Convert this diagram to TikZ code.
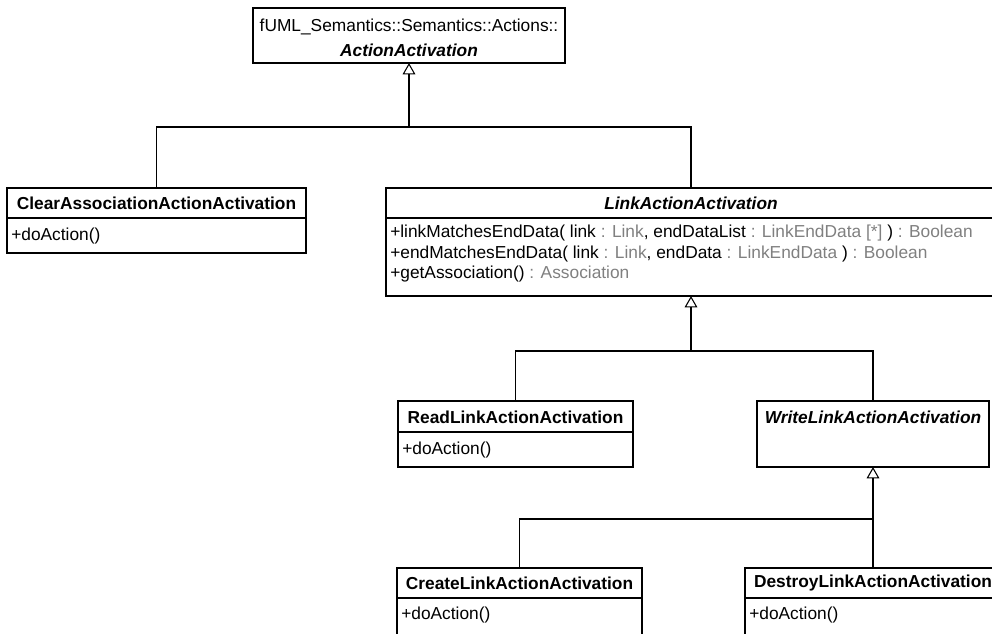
\documentclass[tikz,border=0pt]{standalone}
\usepackage{fontspec}
\setmainfont{Liberation Sans}
\usepackage{xcolor}
\usepackage{tikz}
\usetikzlibrary{positioning,arrows.meta,calc}
\definecolor{typegray}{HTML}{808080}
\newcommand{\umlfont}{\fontsize{13}{15}\selectfont}
\newcommand{\ty}[1]{\textcolor{typegray}{#1}}

\begin{document}
\begin{tikzpicture}[
  x=0.75pt, y=-0.75pt,
  every node/.style={font=\umlfont},
  cls/.style 2 args={draw, line width=1pt, fill=white, inner sep=0pt,
                     outer sep=0pt, anchor=north west,
                     minimum width=#1*0.75pt, minimum height=#2*0.75pt},
  hdr/.style={font=\umlfont\bfseries, inner sep=0pt},
  ahdr/.style={font=\umlfont\bfseries\itshape, inner sep=0pt},
  op/.style={inner sep=0pt, anchor=west},
  divider/.style={line width=1pt},
  wire/.style={line width=0.8pt},
  gen/.style={wire, -{Triangle[open, length=8.5pt, width=9.5pt]}}
]
\useasboundingbox (0,0) rectangle (992,633);
\clip (0,0) rectangle (992,633);
% classes
\node[cls={312}{55}]  (actact)  at (253,8)   {};
\node[cls={299}{65}]  (clear)   at (7,188)   {};
\node[cls={610}{108}] (link)    at (386,188) {};
\node[cls={235}{66}]  (read)    at (398,401) {};
\node[cls={232}{66}]  (write)   at (757,401) {};
\node[cls={245}{80}]  (create)  at (397,568) {};
\node[cls={256}{80}]  (destroy) at (745,568) {};
% names
\node[inner sep=0pt] (actactP) at ($(actact.north)+(0,19)$)
  {fUML\_Semantics::Semantics::Actions::};
\node[ahdr] (actactH)  at ($(actact.north)+(0,42)$)  {ActionActivation};
\node[hdr]  (clearH)   at ($(clear.north)+(0,15)$)   {ClearAssociationActionActivation};
\node[ahdr] (linkH)    at ($(link.north)+(0,15)$)    {LinkActionActivation};
\node[hdr]  (readH)    at ($(read.north)+(0,16)$)    {ReadLinkActionActivation};
\node[ahdr] (writeH)   at ($(write.north)+(0,16)$)   {WriteLinkActionActivation};
\node[hdr]  (createH)  at ($(create.north)+(0,15)$)  {CreateLinkActionActivation};
\node[hdr]  (destroyH) at ($(destroy.north)+(0,15)$) {DestroyLinkActionActivation};
% compartments
\draw[divider] ($(clear.north west)+(0,30)$)   -- ($(clear.north east)+(0,30)$);
\draw[divider] ($(link.north west)+(0,30)$)    -- ($(link.north east)+(0,30)$);
\draw[divider] ($(read.north west)+(0,31)$)    -- ($(read.north east)+(0,31)$);
\draw[divider] ($(create.north west)+(0,30)$)  -- ($(create.north east)+(0,30)$);
\draw[divider] ($(destroy.north west)+(0,30)$) -- ($(destroy.north east)+(0,30)$);
% operations
\node[op] (clearO)   at ($(clear.north west)+(4,48)$)   {+doAction()};
\node[op] (linkO1)   at ($(link.north west)+(4,45)$)
  {+linkMatchesEndData( link \ty{: Link}, endDataList \ty{: LinkEndData [*]} ) \ty{: Boolean}};
\node[op] (linkO2)   at ($(link.north west)+(4,66)$)
  {+endMatchesEndData( link \ty{: Link}, endData \ty{: LinkEndData} ) \ty{: Boolean}};
\node[op] (linkO3)   at ($(link.north west)+(4,86)$)
  {+getAssociation() \ty{: Association}};
\node[op] (readO)    at ($(read.north west)+(4,49)$)    {+doAction()};
\node[op] (createO)  at ($(create.north west)+(4,47)$)  {+doAction()};
\node[op] (destroyO) at ($(destroy.north west)+(4,47)$) {+doAction()};
% generalizations
\coordinate (j1) at ($(actact.south)+(0,64)$);
\coordinate (j2) at ($(link.south)+(0,55)$);
\coordinate (j3) at ($(write.south)+(0,52)$);
\draw[gen]  (j1) -- (actact.south);
\draw[wire] (clear.north) |- (j1) -| (link.north);
\draw[gen]  (j2) -- (link.south);
\draw[wire] (read.north) |- (j2) -| (write.north);
\draw[gen]  (j3) -- (write.south);
\draw[wire] (create.north) |- (j3) -- (destroy.north);
\end{tikzpicture}
\end{document}
